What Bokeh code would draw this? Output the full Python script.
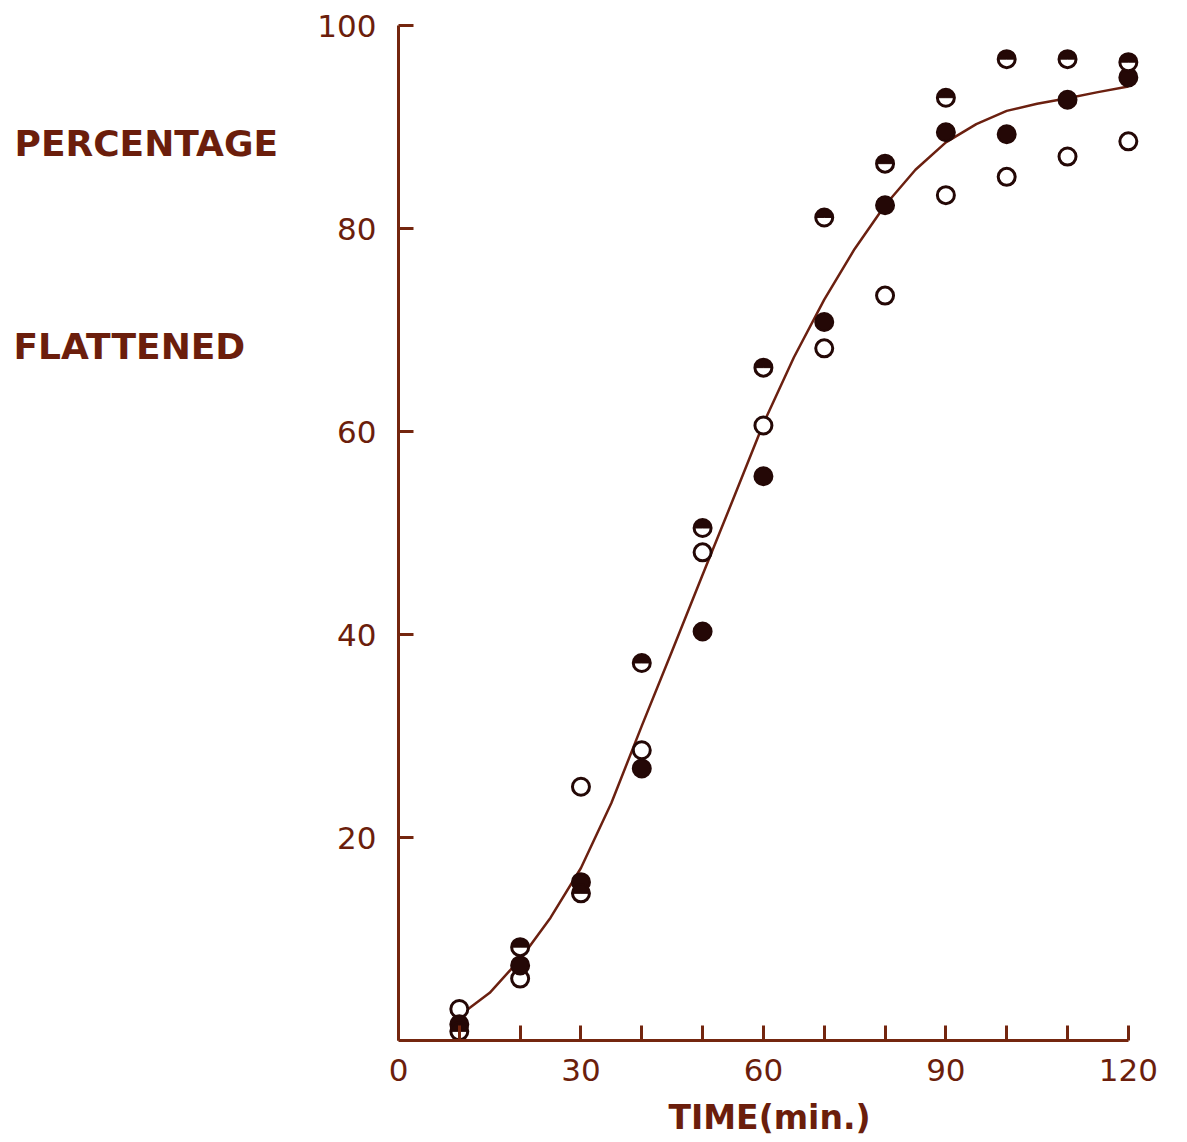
import math
from bokeh.plotting import figure
from bokeh.models import FixedTicker, Label
from bokeh.layouts import row
from bokeh.embed import file_html
from bokeh.resources import INLINE

# ---- data ----
times = [10, 20, 30, 40, 50, 60, 70, 80, 90, 100, 110, 120]
open_pct = [3.1, 6.1, 25.0, 28.6, 48.1, 60.6, 68.2, 73.4, 83.3, 85.1, 87.1, 88.6]
filled_pct = [1.6, 7.4, 15.6, 26.8, 40.3, 55.6, 70.8, 82.3, 89.5, 89.3, 92.7, 94.9]
half_pct = [0.9, 9.2, 14.5, 37.2, 50.5, 66.3, 81.1, 86.4, 92.9, 96.7, 96.7, 96.4]

curve_x = [10.8, 15, 20, 25, 30, 35, 40, 45, 50, 55, 60, 65, 70, 75, 80, 85, 90,
           95, 100, 105, 110, 115, 120]
curve_y = [2.8, 4.7, 8.0, 12.1, 17.0, 23.4, 31.0, 38.4, 45.9, 53.3, 60.8, 67.3,
           73.0, 78.0, 82.3, 85.8, 88.5, 90.3, 91.6, 92.3, 92.85, 93.45, 94.0]

x_major = [0, 30, 60, 90, 120]
x_minor = [10, 20, 40, 50, 70, 80, 100, 110]
y_major = [20, 40, 60, 80, 100]

INK = "#240806"
LINE = "#6b2010"
AXIS = "#74260f"
TXT = "#6b1e0c"
FONT = "DejaVu Sans"

# ---- left panel holding the two-line caption (frame aligned with main frame) ----
left = figure(width=300, height=1142, x_range=(0, 300), y_range=(1040, 15),
              output_backend="svg", toolbar_location=None,
              min_border_left=0, min_border_right=0,
              min_border_top=15, min_border_bottom=102)
left.axis.visible = False
left.grid.visible = False
left.outline_line_color = None
left.background_fill_color = "white"
left.border_fill_color = "white"
left.add_layout(Label(x=14, y=143, text="PERCENTAGE", text_font=FONT,
                      text_font_style="bold", text_font_size="36px",
                      text_color=TXT, text_align="left", text_baseline="middle"))
left.add_layout(Label(x=13, y=346, text="FLATTENED", text_font=FONT,
                      text_font_style="bold", text_font_size="36px",
                      text_color=TXT, text_align="left", text_baseline="middle"))

# ---- main chart ----
p = figure(width=887, height=1142, x_range=(0, 122), y_range=(0, 101),
           output_backend="svg", toolbar_location=None,
           min_border_left=98, min_border_right=47,
           min_border_top=15, min_border_bottom=102)
p.background_fill_color = "white"
p.border_fill_color = "white"
p.outline_line_color = None
p.grid.visible = False

xa = p.xaxis[0]
xa.bounds = (0, 120)
xa.ticker = FixedTicker(ticks=x_major, minor_ticks=x_minor)
xa.axis_line_color = AXIS
xa.axis_line_width = 3
xa.major_tick_line_color = AXIS
xa.minor_tick_line_color = AXIS
xa.major_tick_line_width = 3
xa.minor_tick_line_width = 3
xa.major_tick_in = 15
xa.major_tick_out = 0
xa.minor_tick_in = 15
xa.minor_tick_out = 0
xa.major_label_text_font = FONT
xa.major_label_text_font_size = "31px"
xa.major_label_text_color = TXT
xa.major_label_standoff = 18
xa.axis_label = "TIME(min.)"
xa.axis_label_text_font = FONT
xa.axis_label_text_font_style = "bold"
xa.axis_label_text_font_size = "33px"
xa.axis_label_text_color = TXT
xa.axis_label_standoff = 14

ya = p.yaxis[0]
ya.bounds = (0, 100)
ya.ticker = FixedTicker(ticks=y_major, minor_ticks=[])
ya.axis_line_color = AXIS
ya.axis_line_width = 3
ya.major_tick_line_color = AXIS
ya.major_tick_line_width = 3
ya.major_tick_in = 15
ya.major_tick_out = 0
ya.minor_tick_in = 0
ya.minor_tick_out = 0
ya.major_label_text_font = FONT
ya.major_label_text_font_size = "31px"
ya.major_label_text_color = TXT
ya.major_label_standoff = 22

# fitted curve
p.line(curve_x, curve_y, line_color=LINE, line_width=2.5, line_join="round")

# open circles
p.scatter(times, open_pct, marker="circle", size=17, fill_color="white",
          line_color=INK, line_width=3)
# filled circles
p.scatter(times, filled_pct, marker="circle", size=18, fill_color=INK,
          line_color=INK, line_width=2)
# half-filled circles (top half dark)
p.scatter(times, half_pct, marker="circle", size=17, fill_color="white",
          line_color=INK, line_width=3)
p.wedge(times, half_pct, radius=8, radius_units="screen", start_angle=0,
        end_angle=math.pi, fill_color=INK, line_color=INK, line_width=1)

layout = row(left, p)
open("out.html", "w").write(file_html(layout, INLINE))
